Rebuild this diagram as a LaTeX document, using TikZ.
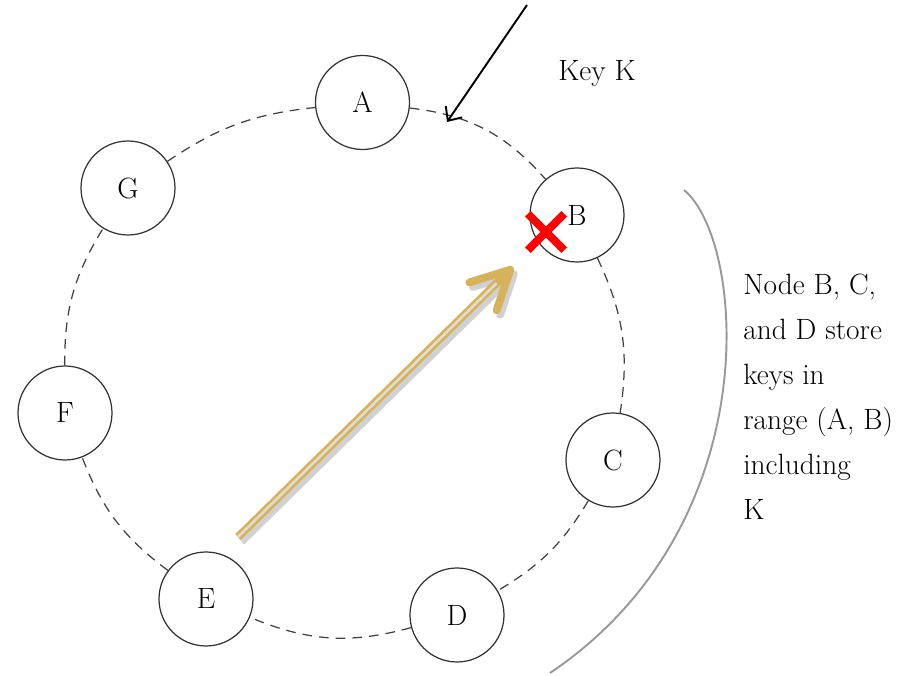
\documentclass[tikz,border=0pt]{standalone}
\usepackage{xcolor}
\usepackage{tikz}
\usetikzlibrary{arrows.meta,shapes.misc,calc,positioning}
\definecolor{colorGOLD}{RGB}{214,178,92}
\definecolor{colorGAP}{RGB}{224,220,208}
\colorlet{colorRING}{black!75}
\colorlet{colorPEER}{black!80}
\colorlet{colorSPAN}{black!40}
\colorlet{colorFAIL}{red}
\colorlet{colorSHADE}{black!18}
\tikzset{
   every path/.style={>=stealth},
   peer/.style={circle,draw=colorPEER,line width=0.7pt,minimum size=1.88cm,inner sep=0pt},
   ring/.style={draw=colorRING,dash pattern=on 5.5pt off 4pt,line width=0.7pt},
   keyline/.style={-{Straight Barb[length=2.2mm,width=4mm]},draw=black,line width=1.1pt},
   route/.style={-{Straight Barb[round,length=7.6mm,width=7.8mm]},draw=colorGOLD,line width=4.5pt},
   routegap/.style={draw=colorGAP,line width=1.5pt},
   fail/.style={cross out,draw=colorFAIL,line width=4.5pt,minimum size=0.57cm,inner sep=0pt},
   replicas/.style={draw=colorSPAN,line width=1.1pt},
}

\begin{document}
\begin{tikzpicture}[
    every node/.style={font=\fontsize{16.7}{25.6}\selectfont}
]

\useasboundingbox (0,0) rectangle (18.2,-13.52);

% =========================================================
% ring members
% =========================================================

\node[peer] (A) at (7.25,-2.05)  {A};
\node[peer] (B) at (11.54,-4.30) {B};
\node[peer] (C) at (12.26,-9.20) {C};
\node[peer] (D) at (9.14,-12.30) {D};
\node[peer] (E) at (4.12,-11.98) {E};
\node[peer] (F) at (1.30,-8.26)  {F};
\node[peer] (G) at (2.56,-3.76)  {G};


% dashed ring
\draw[ring] (A) to[bend left=21] (B);
\draw[ring] (B) to[bend left=17] (C);
\draw[ring] (C) to[bend left=14] (D);
\draw[ring] (D) to[bend left=19] (E);
\draw[ring] (E) to[bend left=16] (F);
\draw[ring] (F) to[bend left=16] (G);
\draw[ring] (G) to[bend left=14] (A);


% =========================================================
% key K
% =========================================================

\coordinate (kstart) at (10.54,-0.10);
\coordinate (ktip) at (8.94,-2.44);

\draw[keyline] (kstart) -- (ktip);

\node (keyk) at (11.94,-1.46) {Key K};


% =========================================================
% lookup from E
% =========================================================

\coordinate (estart) at (4.76,-10.74);
\coordinate (etip) at (10.26,-5.34);

% shadow
\draw[route,draw=colorSHADE] ([shift={(0.07,-0.09)}]estart) -- ([shift={(0.07,-0.09)}]etip);
\draw[route] (estart) -- (etip);
\draw[routegap] (estart) -- ($(estart)!0.94!(etip)$);

% failed node
\node[fail] (xb) at (10.92,-4.64) {};


% =========================================================
% replicas
% =========================================================

\draw[replicas] (13.68,-3.80) .. controls (14.9,-4.8) and (15.4,-10.5) .. (11.0,-13.46);

\node[align=left,anchor=north west,inner sep=0pt] (note) at (14.86,-5.48)
{Node B, C,\\ and D store\\ keys in\\ range (A, B)\\ including\\ K};

\end{tikzpicture}
\end{document}
